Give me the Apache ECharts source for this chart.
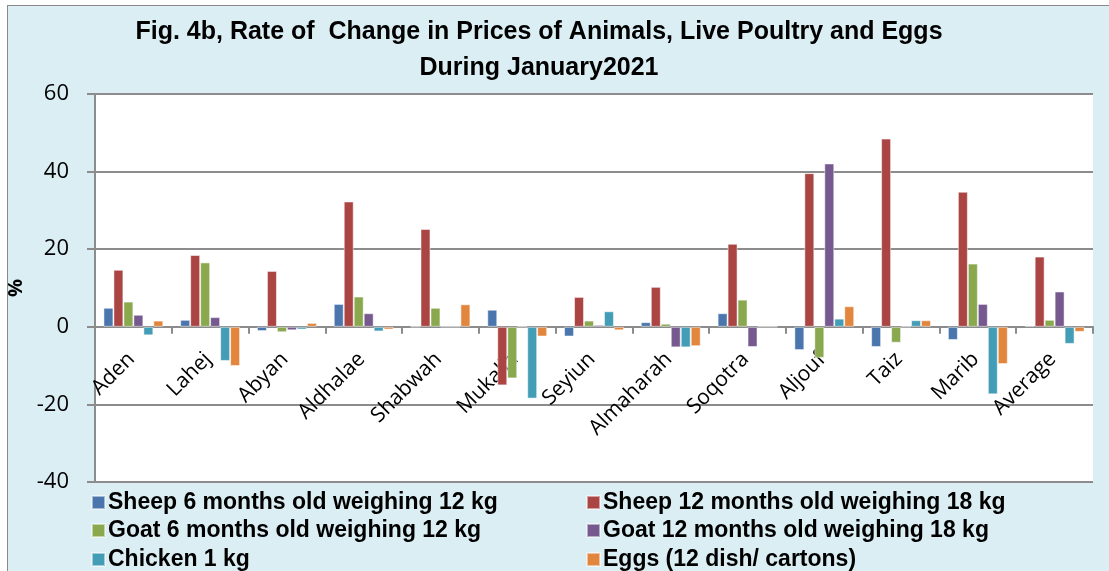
<!DOCTYPE html>
<html>
<head>
<meta charset="utf-8">
<script src="https://cdn.jsdelivr.net/npm/echarts@6/dist/echarts.min.js"></script>
<style>
  html, body { margin: 0; padding: 0; background: #fff; }
  #chart { position: absolute; left: 7px; top: 5px; width: 1102px; height: 566px;
           background: #dbeef4; border: 1px solid #8a8a8a; border-right: none; border-bottom: none; }
</style>
</head>
<body>
<div id="chart"></div>
<script>
// categories (governorates)
const categories = ['Aden', 'Lahej', 'Abyan', 'Aldhalae', 'Shabwah', 'Mukalla', 'Seyiun',
  'Almaharah', 'Soqotra', 'Aljouf', 'Taiz', 'Marib', 'Average']

// rate of change, %
const sheep6 = [4.9, 1.8, -1.1, 5.9, 0, 4.4, -2.5, 1.2, 3.5, -6.0, -5.2, -3.4, 0.3]
const sheep12 = [14.7, 18.5, 14.4, 32.3, 25.2, -15.1, 7.7, 10.3, 21.4, 39.6, 48.5, 34.8, 18.1]
const goat6 = [6.5, 16.6, -1.4, 7.8, 4.9, -13.3, 1.6, 0.8, 7.0, -8.0, -4.1, 16.3, 1.8]
const goat12 = [3.1, 2.5, -0.9, 3.5, 0, 0, 0.5, -5.3, -5.2, 42.1, 0, 5.9, 9.1]
const chicken = [-2.2, -8.8, -0.7, -1.2, 0, -18.5, 4.0, -5.3, 0, 2.1, 1.7, -17.4, -4.4]
const eggs = [1.6, -10.1, 1.0, -0.7, 5.8, -2.5, -0.9, -5.0, 0, 5.3, 1.7, -9.6, -1.3]

const seriesNames = ['Sheep 6 months old weighing 12 kg', 'Sheep 12 months old weighing 18 kg',
  'Goat 6 months old weighing 12 kg', 'Goat 12 months old weighing 18 kg',
  'Chicken 1 kg', 'Eggs (12 dish/ cartons)']
const seriesData = [sheep6, sheep12, goat6, goat12, chicken, eggs]
const colors = ['#4a76ad', '#ab4543', '#8aa84e', '#75598f', '#449db6', '#e2853d']

const font = "'Liberation Sans Narrow', 'Liberation Sans', Arial, sans-serif"
const axisFont = "'Open Sans', 'DejaVu Sans', sans-serif"

let myChart = echarts.init(document.getElementById('chart'))

// one legend per item so the 2 x 3 layout stays fixed
const legendLeft = [78, 573]
const legendTop = [480, 508, 537]
const legends = seriesNames.map((name, i) => ({
  left: legendLeft[i % 2],
  top: legendTop[Math.floor(i / 2)],
  data: [name],
  itemWidth: 13,
  itemHeight: 13,
  itemGap: 4,
  icon: 'rect',
  textStyle: { fontFamily: font, fontWeight: 'bold', fontSize: 23, color: '#000', padding: [0, 0, 0, -2] }
}))

// pixel distance from plot bottom (-40) to zero line
const gridTop = 88, gridBottom = 90, chartH = 566
const zeroOffset = (chartH - gridTop - gridBottom) * 40 / 100

let option = {
  color: colors,
  animation: false,
  title: {
    text: 'Fig. 4b, Rate of  Change in Prices of Animals, Live Poultry and Eggs\nDuring January2021',
    left: 526,
    textAlign: 'center',
    top: 3,
    textStyle: { fontFamily: font, fontWeight: 'bold', fontSize: 25, lineHeight: 36, color: '#000' }
  },
  legend: legends,
  grid: { left: 87, right: 17, top: gridTop, bottom: gridBottom, outerBoundsMode: 'none',
    backgroundColor: '#fff', show: true, borderWidth: 0 },
  xAxis: {
    type: 'category',
    data: categories,
    offset: -zeroOffset,
    axisLine: { onZero: false, lineStyle: { color: '#8c8c8c', width: 2 } },
    axisTick: { show: true, length: 7, lineStyle: { color: '#8c8c8c', width: 2 } },
    axisLabel: { rotate: 45, interval: 0, fontFamily: axisFont, fontSize: 21, color: '#000',
      margin: 27, padding: [0, 3, 0, 0] }
  },
  yAxis: {
    type: 'value',
    min: -40,
    max: 60,
    interval: 20,
    name: '%',
    nameLocation: 'middle',
    nameGap: 43,
    nameTextStyle: { fontFamily: axisFont, fontWeight: 'bold', fontSize: 20, color: '#000' },
    axisLine: { show: true, lineStyle: { color: '#8c8c8c', width: 2 } },
    axisTick: { show: true, inside: false, length: 8, lineStyle: { color: '#8c8c8c', width: 2 } },
    axisLabel: { fontFamily: axisFont, fontSize: 22, color: '#000', margin: 26 },
    splitLine: { lineStyle: { color: '#8c8c8c', width: 2 } }
  },
  series: seriesNames.map((name, i) => ({
    name: name,
    type: 'bar',
    data: seriesData[i],
    barGap: '0%',
    barCategoryGap: '22%',
    itemStyle: { borderColor: 'rgba(255,255,255,0.5)', borderWidth: 1 }
  }))
}
myChart.setOption(option)
window.addEventListener('resize', () => {
  myChart.resize()
})
</script>
</body>
</html>
